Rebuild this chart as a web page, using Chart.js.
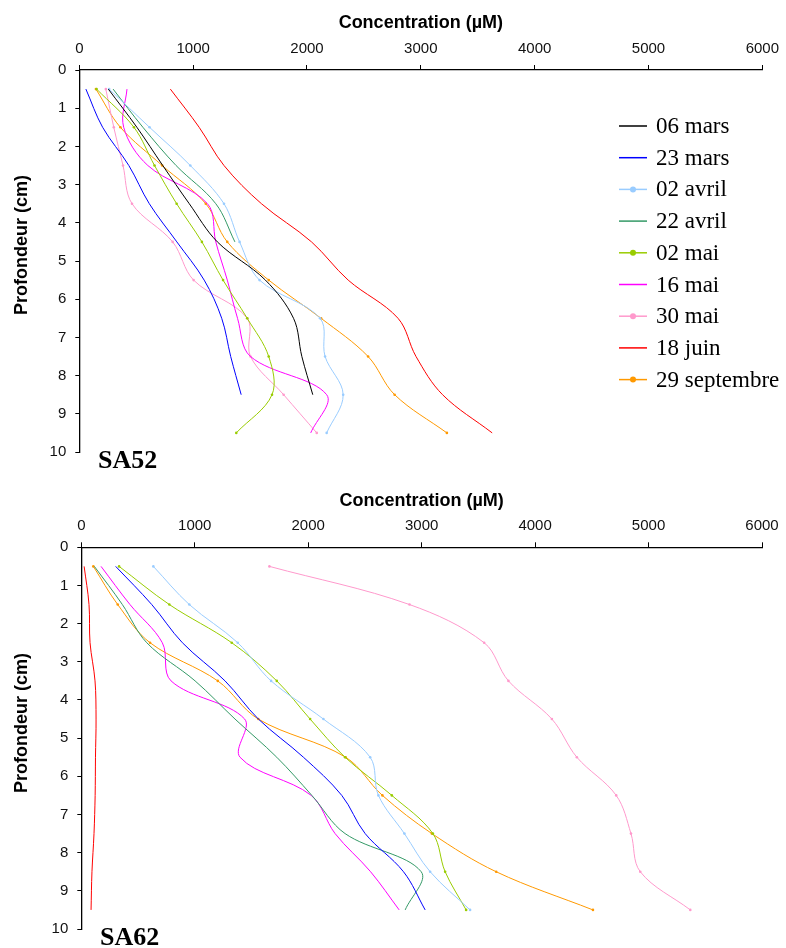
<!DOCTYPE html>
<html>
<head>
<meta charset="utf-8">
<title>SA52 / SA62</title>
<script src="https://cdn.jsdelivr.net/npm/chart.js@4/dist/chart.umd.min.js"></script>
<style>
  body { margin: 0; background: #fff; }
  .panel { position: absolute; left: 0; width: 786px; }
</style>
</head>
<body>
<div class="panel" style="top:0;height:478px"><canvas id="sa52" width="786" height="478"></canvas></div>
<div class="panel" style="top:478px;height:470px"><canvas id="sa62" width="786" height="470"></canvas></div>
<script>
// profondeur des points (cm)
const depths = [0.5, 1.5, 2.5, 3.5, 4.5, 5.5, 6.5, 7.5, 8.5, 9.5];

// SA52 - concentration (µM) à chaque profondeur
const sa52_06mars = [255, 506, 733, 966, 1213, 1635, 1882, 1955, 2051];
const sa52_23mars = [58, 205, 435, 615, 857, 1097, 1251, 1330, 1422];
const sa52_02avril = [262, 617, 975, 1271, 1408, 1583, 2115, 2159, 2318, 2173];
const sa52_22avril = [297, 559, 850, 1199, 1367];
const sa52_02mai = [152, 480, 661, 855, 1077, 1263, 1475, 1664, 1693, 1379];
const sa52_16mai = [419, 390, 602, 1126, 1199, 1300, 1390, 1504, 2173, 2033];
const sa52_30mai = [233, 303, 384, 463, 820, 1004, 1475, 1504, 1795, 2086];
const sa52_18juin = [800, 1053, 1271, 1600, 2040, 2362, 2800, 2958, 3191, 3627];
const sa52_29sept = [146, 361, 728, 1111, 1300, 1664, 2124, 2537, 2770, 3229];

// SA62
const sa62_23mars = [303, 621, 891, 1267, 1561, 1958, 2296, 2502, 2840, 3031];
const sa62_02avril = [635, 952, 1379, 1673, 2134, 2546, 2619, 2848, 3075, 3427];
const sa62_22avril = [115, 362, 577, 1003, 1355, 1723, 2032, 2325, 2996, 2855];
const sa62_02mai = [333, 776, 1326, 1723, 2017, 2325, 2737, 3099, 3207, 3392];
const sa62_16mai = [174, 429, 714, 791, 1440, 1399, 2026, 2237, 2550, 2802];
const sa62_30mai = [1658, 2893, 3551, 3765, 4148, 4368, 4715, 4845, 4927, 5368];
const sa62_18juin = [25, 68, 77, 121, 130, 125, 122, 112, 94, 86];
const sa62_29sept = [106, 321, 606, 1203, 1560, 2330, 2654, 3090, 3657, 4510];

const xTicks = [0, 1000, 2000, 3000, 4000, 5000, 6000];
const yTicks = [0, 1, 2, 3, 4, 5, 6, 7, 8, 9, 10];

// couleurs et marqueurs par campagne
const seriesStyle = {
    '06 mars': { color: '#000000', marker: false },
    '23 mars': { color: '#0000FF', marker: false },
    '02 avril': { color: '#99CCFF', marker: true },
    '22 avril': { color: '#339966', marker: false },
    '02 mai': { color: '#99CC00', marker: true },
    '16 mai': { color: '#FF00FF', marker: false },
    '30 mai': { color: '#FF99CC', marker: true },
    '18 juin': { color: '#FF0000', marker: false },
    '29 septembre': { color: '#FF9900', marker: true }
};

const SANS = '"Liberation Sans", Arial, sans-serif';
const SERIF = '"Liberation Serif", "Times New Roman", serif';

function toPoints(values) {
    return values.map((v, i) => ({ x: v, y: depths[i] }));
}

function makeDataset(label, values) {
    const st = seriesStyle[label];
    return {
        label: label,
        data: toPoints(values),
        showLine: true,
        borderColor: st.color,
        backgroundColor: st.color,
        borderWidth: 1,
        tension: 0.35,
        pointRadius: st.marker ? 1.3 : 0,
        pointBorderWidth: 0,
        pointBackgroundColor: st.color
    };
}

// titre de l'axe Y, nom de la station et légende
const panelText = {
    id: 'panelText',
    afterDraw(chart, args, opts) {
        const ctx = chart.ctx;
        ctx.save();
        ctx.fillStyle = '#000';
        ctx.translate(opts.yTitleX, opts.yTitleY);
        ctx.rotate(-Math.PI / 2);
        ctx.font = 'bold 18px ' + SANS;
        ctx.textAlign = 'center';
        ctx.textBaseline = 'middle';
        ctx.fillText('Profondeur (cm)', 0, 0);
        ctx.restore();

        ctx.save();
        ctx.fillStyle = '#000';
        ctx.font = 'bold 26px ' + SERIF;
        ctx.textAlign = 'left';
        ctx.textBaseline = 'alphabetic';
        ctx.fillText(opts.name, opts.nameX, opts.nameY);

        if (opts.legend) {
            ctx.font = '23px ' + SERIF;
            ctx.textBaseline = 'middle';
            chart.data.datasets.forEach((ds, i) => {
                const y = opts.legendY + i * opts.legendStep;
                ctx.strokeStyle = ds.borderColor;
                ctx.lineWidth = 1.5;
                ctx.beginPath();
                ctx.moveTo(opts.legendX, y);
                ctx.lineTo(opts.legendX + 28, y);
                ctx.stroke();
                if (seriesStyle[ds.label].marker) {
                    ctx.fillStyle = ds.borderColor;
                    ctx.beginPath();
                    ctx.arc(opts.legendX + 14, y, 3, 0, Math.PI * 2);
                    ctx.fill();
                }
                ctx.fillStyle = '#000';
                ctx.fillText(ds.label, opts.legendX + 37, y + 1);
            });
        }
        ctx.restore();
    }
};

function makeChart(canvasId, name, datasets, geo, legend) {
    const ctx = document.getElementById(canvasId).getContext('2d');
    return new Chart(ctx, {
        type: 'scatter',
        data: { datasets: datasets },
        plugins: [panelText],
        options: {
            responsive: false,
            animation: false,
            layout: { padding: { left: 0, top: 0, right: geo.padRight, bottom: geo.padBottom } },
            plugins: {
                legend: { display: false },
                tooltip: { enabled: false },
                panelText: {
                    name: name, nameX: geo.nameX, nameY: geo.nameY,
                    yTitleX: 22, yTitleY: 245,
                    legend: legend, legendX: 619, legendY: 126, legendStep: 31.7
                }
            },
            scales: {
                x: {
                    type: 'linear',
                    position: 'top',
                    min: 0,
                    max: 6000,
                    afterBuildTicks: s => { s.ticks = xTicks.map(v => ({ value: v })); },
                    ticks: {
                        callback: v => String(v),
                        color: '#111',
                        font: { family: SANS, size: 15 },
                        padding: 7,
                        maxRotation: 0
                    },
                    grid: { drawOnChartArea: false, drawTicks: true, tickLength: 5, color: '#000' },
                    border: { display: true, color: '#000', width: 1.3 },
                    title: {
                        display: true,
                        text: 'Concentration (µM)',
                        color: '#000',
                        font: { family: SANS, size: 18, weight: 'bold' },
                        padding: { top: 12, bottom: 0 }
                    },
                    afterFit: s => { s.height = geo.axisTop; }
                },
                y: {
                    type: 'linear',
                    reverse: true,
                    min: 0,
                    max: 10,
                    afterBuildTicks: s => { s.ticks = yTicks.map(v => ({ value: v })); },
                    ticks: {
                        callback: v => String(v),
                        color: '#111',
                        font: { family: SANS, size: 15 },
                        padding: 9
                    },
                    grid: { drawOnChartArea: false, drawTicks: true, tickLength: 4, color: '#000' },
                    border: { display: true, color: '#000', width: 1.3 },
                    afterFit: s => { s.width = geo.axisLeft; }
                }
            }
        }
    });
}

makeChart('sa52', 'SA52', [
    makeDataset('06 mars', sa52_06mars),
    makeDataset('23 mars', sa52_23mars),
    makeDataset('02 avril', sa52_02avril),
    makeDataset('22 avril', sa52_22avril),
    makeDataset('02 mai', sa52_02mai),
    makeDataset('16 mai', sa52_16mai),
    makeDataset('30 mai', sa52_30mai),
    makeDataset('18 juin', sa52_18juin),
    makeDataset('29 septembre', sa52_29sept)
], { axisLeft: 79.3, axisTop: 70, padRight: 19.3, padBottom: 26, nameX: 98, nameY: 468 }, true);

makeChart('sa62', 'SA62', [
    makeDataset('23 mars', sa62_23mars),
    makeDataset('02 avril', sa62_02avril),
    makeDataset('22 avril', sa62_22avril),
    makeDataset('02 mai', sa62_02mai),
    makeDataset('16 mai', sa62_16mai),
    makeDataset('30 mai', sa62_30mai),
    makeDataset('18 juin', sa62_18juin),
    makeDataset('29 septembre', sa62_29sept)
], { axisLeft: 81.3, axisTop: 69.3, padRight: 24, padBottom: 19, nameX: 100, nameY: 467 }, false);
</script>
</body>
</html>
